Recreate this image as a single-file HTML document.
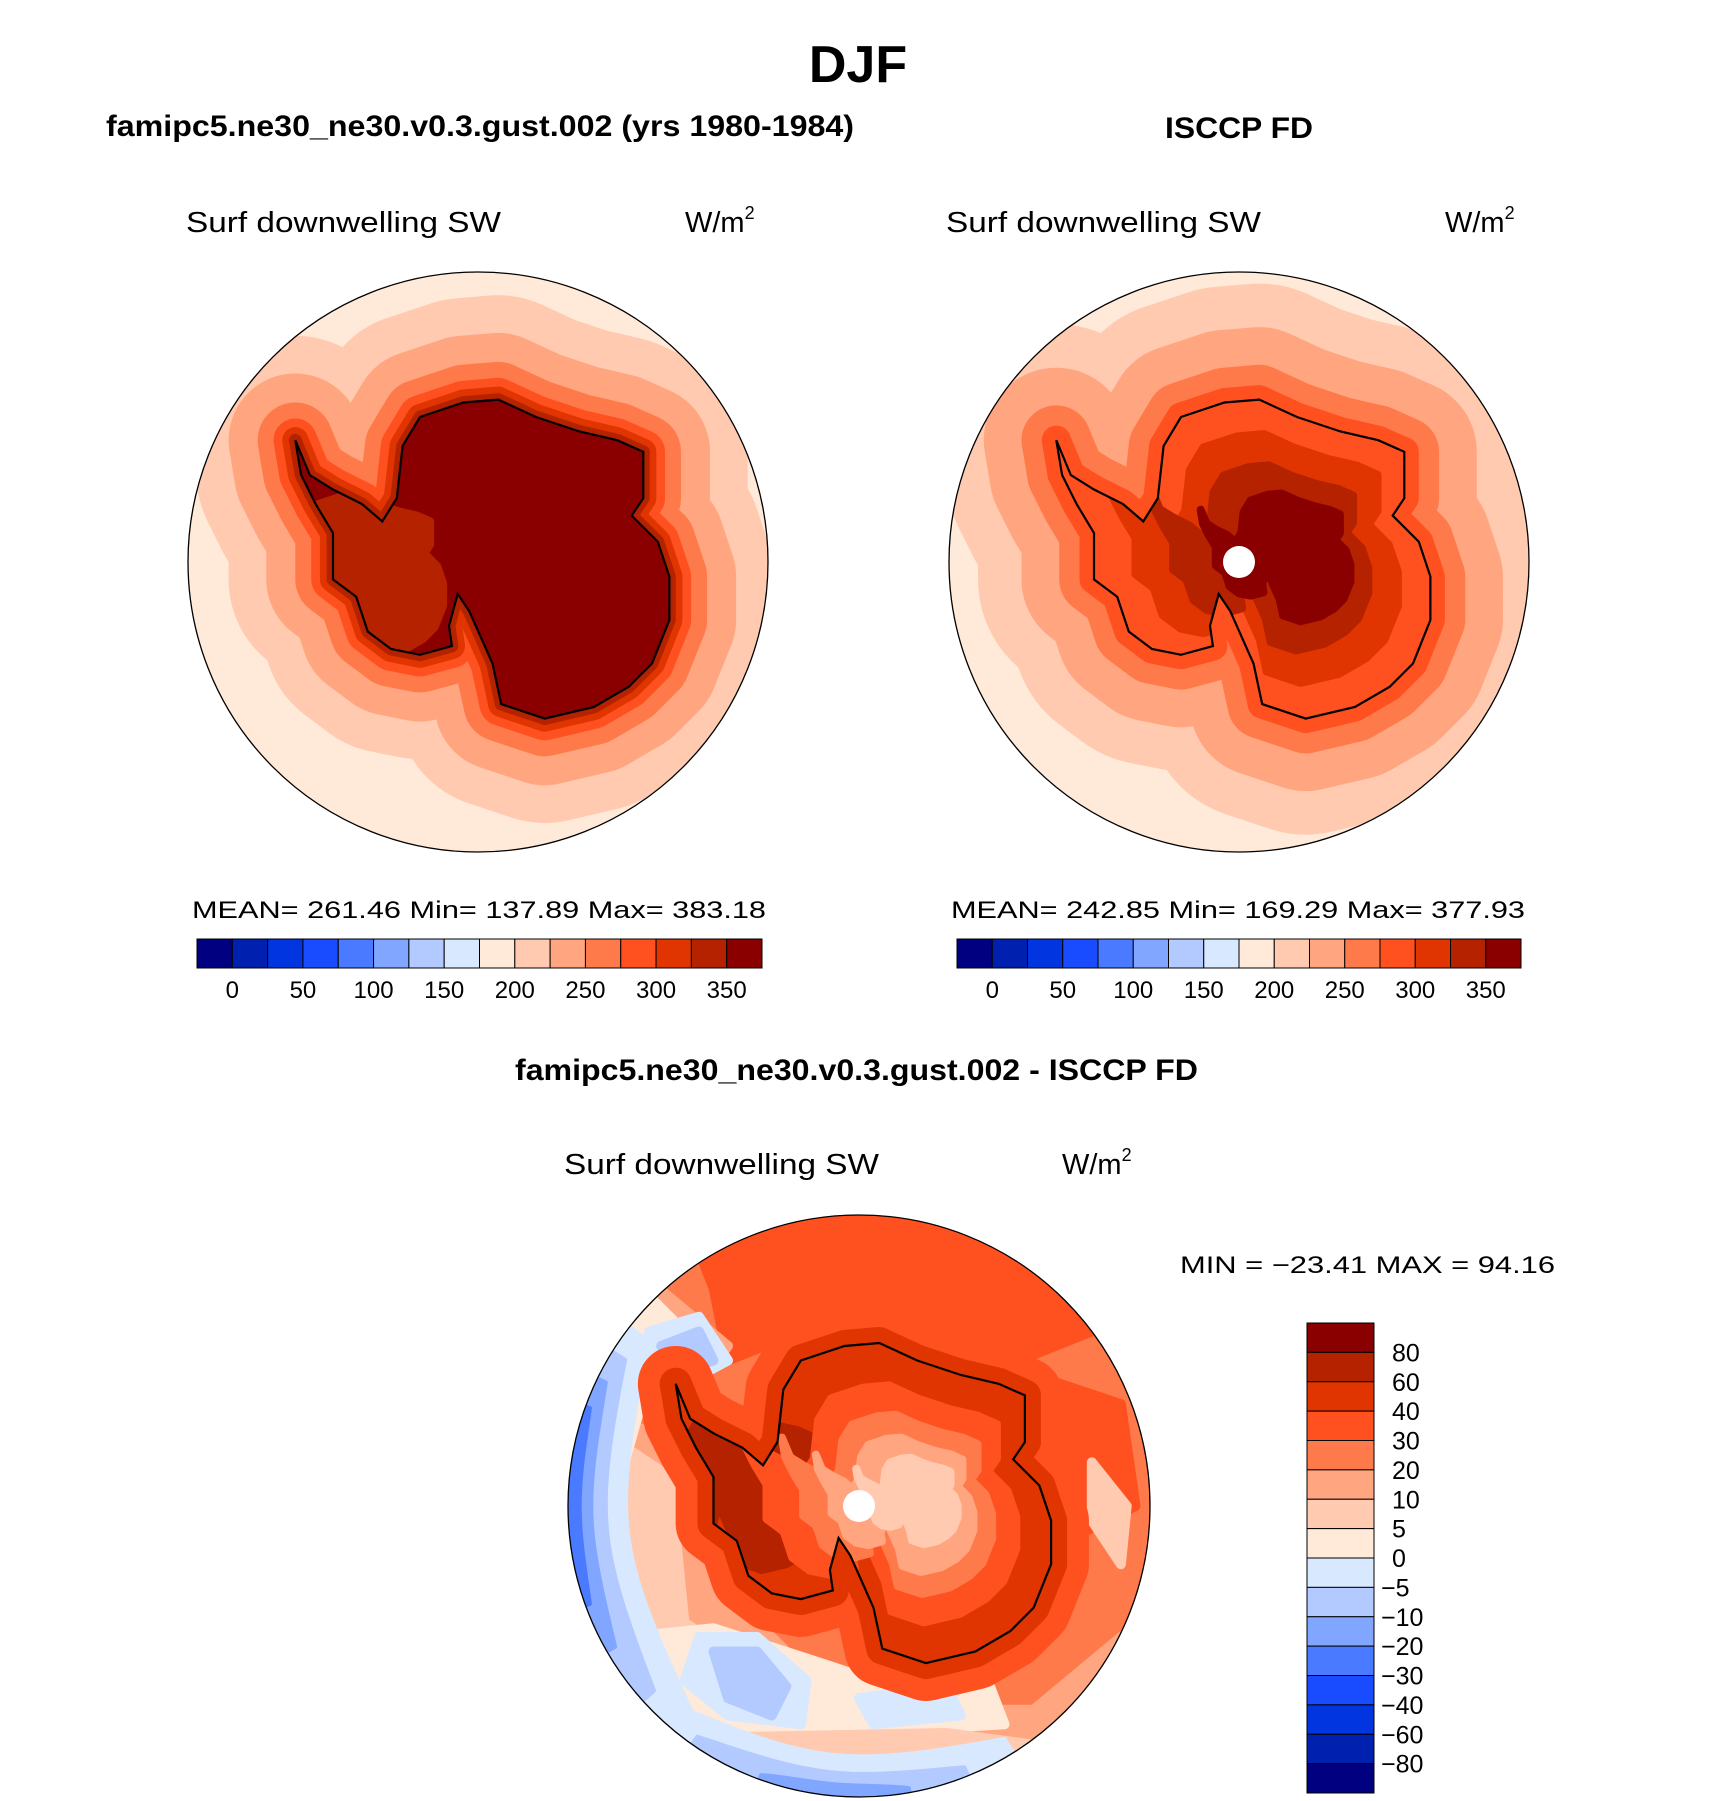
<!DOCTYPE html>
<html><head><meta charset="utf-8"><style>
html,body{margin:0;padding:0;background:#fff}
svg{display:block}
.t{font-family:"Liberation Sans",sans-serif}
</style></head><body>
<svg id="fig" width="1710" height="1801" viewBox="0 0 1710 1801" xmlns="http://www.w3.org/2000/svg">
<text class="t" x="858" y="82" font-size="52" font-weight="bold" text-anchor="middle">DJF</text>
<text class="t" x="106" y="136" font-size="30" font-weight="bold" textLength="748" lengthAdjust="spacingAndGlyphs">famipc5.ne30_ne30.v0.3.gust.002 (yrs 1980-1984)</text>
<text class="t" x="1239" y="138" font-size="30" font-weight="bold" text-anchor="middle" textLength="148" lengthAdjust="spacingAndGlyphs">ISCCP FD</text>
<text class="t" x="515" y="1080" font-size="30" font-weight="bold" textLength="683" lengthAdjust="spacingAndGlyphs">famipc5.ne30_ne30.v0.3.gust.002 - ISCCP FD</text>
<g id="maps"></g>
</svg>
<script>
// contour levels (W/m2) for top panels and difference panel
const absLevels = [0,25,50,75,100,125,150,175,200,225,250,275,300,325,350];
const absTicks = ['0','50','100','150','200','250','300','350'];
const diffTicks = ['80','60','40','30','20','10','5','0','-5','-10','-20','-30','-40','-60','-80'];
const colors = ['#000080','#0020b0','#0035e0','#1a4cff','#4a7aff','#80a6ff','#b2caff','#d8e9ff','#ffe9d8','#ffcab0','#ffa580','#ff7a4a','#ff5020','#e03500','#b52200','#8a0000'];
// panel 1 (model) bands around continent: level index and reach from coast
const m1Bands = [9,10,11,12,13,14];
const m1Reach = [0.36,0.23,0.13,0.075,0.045,0.022];
const m1Inner = [14];
const m1InnerScale = [0.5];
const m1InnerOrigin = [[-0.9,0.1]];
// panel 2 (ISCCP)
const m2Bands = [9,10,11,12];
const m2Reach = [0.40,0.25,0.12,0.05];
const m2Inner = [13,14,15];
const m2InnerScale = [0.78,0.58,0.40];
const m2InnerOrigin = [[0.15,-0.02],[0.15,-0.02],[0.2,-0.02]];
// panel 3 (difference)
const m3Bands = [12,13];
const m3Reach = [0.13,0.055];
const m3Inner = [14,12,11,10,9];
const m3InnerScale = [0.5,0.74,0.56,0.42,0.27];
const m3InnerOrigin = [[-0.9,-0.1],[0.2,0.0],[0.2,0.0],[0.2,0.0],[0.22,-0.02]];
// panel 3 edge bands (level, inner radius fraction, start/end angle deg)
const ringLevel = [7,6,5,4,7,6,5];
const ringInner = [0.80,0.87,0.92,0.96,0.86,0.92,0.96];
const ringStart = [128,138,150,160,58,68,80];
const ringEnd = [218,212,206,200,135,125,110];
const stats1 = 'MEAN=  261.46    Min=  137.89    Max=  383.18';
const stats2 = 'MEAN=  242.85    Min=  169.29    Max=  377.93';
const stats3 = 'MIN  =  \u221223.41  MAX  =    94.16';

const coast = [[-0.63,-0.42],[-0.58,-0.30],[-0.50,-0.25],[-0.40,-0.20],[-0.33,-0.14],[-0.28,-0.22],[-0.26,-0.40],[-0.20,-0.50],[-0.05,-0.55],[0.07,-0.56],[0.20,-0.50],[0.35,-0.45],[0.48,-0.42],[0.57,-0.38],[0.57,-0.22],[0.53,-0.16],[0.62,-0.07],[0.66,0.05],[0.66,0.20],[0.60,0.35],[0.52,0.43],[0.40,0.50],[0.23,0.54],[0.08,0.49],[0.05,0.35],[-0.03,0.17],[-0.07,0.11],[-0.10,0.22],[-0.09,0.29],[-0.20,0.32],[-0.30,0.30],[-0.38,0.24],[-0.42,0.12],[-0.50,0.06],[-0.50,-0.10],[-0.56,-0.20],[-0.61,-0.30]];

const NS='http://www.w3.org/2000/svg';
const root=document.getElementById('maps');
function mk(tag,attrs,parent){const e=document.createElementNS(NS,tag);for(const k in attrs)e.setAttribute(k,attrs[k]);(parent||root).appendChild(e);return e;}
function pts(cx,cy,r,arr,s,ox,oy){s=s||1;ox=ox||0;oy=oy||0;return arr.map(p=>((cx+(ox+(p[0]-ox)*s)*r).toFixed(1)+','+(cy+(oy+(p[1]-oy)*s)*r).toFixed(1))).join(' ');}

function mapPanel(id,cx,cy,r,bg,bands,reach,fill,inner,innerScale,io,extra){
  const g=mk('g',{});
  
  
  const cp=mk('clipPath',{id:id+'-clip'},g);mk('circle',{cx:cx,cy:cy,r:r},cp);
  const gg=mk('g',{'clip-path':'url(#'+id+'-clip)'},g);
  const bgc=mk('circle',{cx:cx,cy:cy,r:r,fill:colors[bg]},gg);
  
  
  if(extra)extra(gg);
  bands.forEach((b,i)=>{
    const p=mk('polygon',{points:pts(cx,cy,r,coast),fill:colors[b],stroke:colors[b],'stroke-width':(reach[i]*2*r).toFixed(1),'stroke-linejoin':'round'},gg);
    
    
  });
  const land=mk('polygon',{points:pts(cx,cy,r,coast),fill:colors[fill]},gg);
  
  
  const icp=mk('clipPath',{id:id+'-land'},g);mk('polygon',{points:pts(cx,cy,r,coast)},icp);
  const ig=mk('g',{'clip-path':'url(#'+id+'-land)'},gg);
  inner.forEach((b,i)=>{
    const p=mk('polygon',{points:pts(cx,cy,r,coast,innerScale[i],io[i][0],io[i][1]),fill:colors[b],stroke:colors[b],'stroke-width':8,'stroke-linejoin':'round'},ig);
    
    
  });
  const cl=mk('polygon',{points:pts(cx,cy,r,coast),fill:'none',stroke:'#000','stroke-width':2.2},g);
  
  
  const rim=mk('circle',{cx:cx,cy:cy,r:r,fill:'none',stroke:'#000','stroke-width':1.3},g);
  
  
  return g;
}
function label(x,y,txt,size,name,len){const t=mk('text',{x:x,y:y,'font-size':size,'class':'t'});if(len){t.setAttribute('textLength',len);t.setAttribute('lengthAdjust','spacingAndGlyphs');}t.textContent=txt;
  
  return t;}
function units(x,y,name){const t=mk('text',{x:x,y:y,'font-size':29,'class':'t'});t.innerHTML='W/m<tspan dy="-13" font-size="18">2</tspan>';
  
  }

// Panel 1
mapPanel('model-map',478,562,290,8,m1Bands,m1Reach,15,m1Inner,m1InnerScale,m1InnerOrigin,null);
// Panel 2
mapPanel('obs-map',1239,562,290,8,m2Bands,m2Reach,12,m2Inner,m2InnerScale,m2InnerOrigin,null);
mk('circle',{cx:1239,cy:562,r:16,fill:'#fff'});
// Panel 3
mapPanel('diff-map',859,1506,291,11,m3Bands,m3Reach,13,m3Inner,m3InnerScale,m3InnerOrigin,function(gg){
  const cx=859,cy=1506,r=291;
  const blobs=[
   [12,[[-0.6,-1],[0.7,-1],[0.8,-0.6],[0.55,-0.5],[0.2,-0.62],[-0.2,-0.6],[-0.45,-0.5],[-0.5,-0.75]]],
   [12,[[0.6,-0.45],[0.9,-0.35],[0.95,0],[0.75,0.1],[0.7,-0.2]]],
   [10,[[-0.85,-0.3],[-0.55,-0.2],[-0.45,0.3],[-0.2,0.55],[0.2,0.7],[0.6,0.7],[0.9,0.45],[1,1],[-1,1],[-1,-0.3]]],
   [10,[[-0.75,-0.8],[-0.45,-0.55],[-0.6,-0.35],[-0.9,-0.4]]],
   [9,[[-0.8,-0.2],[-0.65,-0.1],[-0.6,0.4],[-0.3,0.6],[0.0,0.72],[0.4,0.85],[0.5,1],[-1,1],[-1,-0.2]]],
   [8,[[-1,-0.6],[-0.72,-0.72],[-0.6,-0.6],[-0.72,-0.45],[-0.82,-0.1],[-0.8,0.3],[-0.72,0.55],[-1,0.6]]],
   [7,[[-0.72,-0.6],[-0.55,-0.65],[-0.45,-0.5],[-0.6,-0.42],[-0.75,-0.48]]],
   [6,[[-0.68,-0.55],[-0.55,-0.6],[-0.5,-0.5],[-0.62,-0.46]]],
   [8,[[-0.8,0.45],[-0.5,0.42],[-0.1,0.55],[0.05,0.6],[0.45,0.62],[0.5,0.75],[0.0,0.78],[-0.3,0.85],[-0.6,0.75]]],
   [7,[[-0.55,0.45],[-0.35,0.45],[-0.18,0.6],[-0.2,0.75],[-0.45,0.72],[-0.6,0.6]]],
   [6,[[-0.5,0.5],[-0.35,0.5],[-0.25,0.62],[-0.3,0.72],[-0.45,0.66]]],
   [7,[[0.0,0.66],[0.3,0.62],[0.35,0.72],[0.05,0.75]]],
   [9,[[-0.7,0.8],[0.3,0.78],[0.6,0.82],[0.3,1],[-0.4,1]]],
   [9,[[0.8,-0.15],[0.92,0.0],[0.9,0.2],[0.8,0.05]]]
  ];
  blobs.forEach(b=>{const p=mk('polygon',{points:pts(cx,cy,r,b[1]),fill:colors[b[0]],stroke:colors[b[0]],'stroke-width':10,'stroke-linejoin':'round'},gg);
    
    });
  ringLevel.forEach((lv,i)=>{
    const a0=ringStart[i]*Math.PI/180,a1=ringEnd[i]*Math.PI/180,ri=ringInner[i];
    const P=[];const n=24;
    for(let k=0;k<=n;k++){const a=a0+(a1-a0)*k/n;P.push([Math.cos(a)*1.05,Math.sin(a)*1.05]);}
    for(let k=n;k>=0;k--){const a=a0+(a1-a0)*k/n;const w=ri+(1-ri)*0.6*Math.pow(Math.abs(2*k/n-1),3);P.push([Math.cos(a)*w,Math.sin(a)*w]);}
    const p=mk('polygon',{points:pts(cx,cy,r,P),fill:colors[lv],stroke:colors[lv],'stroke-width':4,'stroke-linejoin':'round'},gg);
    
    
  });
});
mk('circle',{cx:859,cy:1506,r:16,fill:'#fff'});

// subtitles
label(186,232,'Surf  downwelling  SW',29,'left-variable-label',315);units(685,232,'left-units-label');
label(946,232,'Surf  downwelling  SW',29,'right-variable-label',315);units(1445,232,'right-units-label');
label(564,1174,'Surf  downwelling  SW',29,'diff-variable-label',315);units(1062,1174,'diff-units-label');
label(192,918,stats1,24,'left-stats',574);
label(951,918,stats2,24,'right-stats',574);
label(1180,1273,stats3,24,'diff-stats',375);

// horizontal colorbars
function hbar(x0,x1,y0,y1,name){
  const g=mk('g',{});
  const w=(x1-x0)/colors.length;
  colors.forEach((c,i)=>{const r=mk('rect',{x:x0+i*w,y:y0,width:w,height:y1-y0,fill:c,stroke:'#000','stroke-width':1},g);
    });
  absTicks.forEach((t,k)=>{const bi=absLevels.indexOf(+t)+1;const tx=mk('text',{x:x0+bi*w,y:y1+30,'font-size':24,'class':'t','text-anchor':'middle'},g);tx.textContent=t;
    });
}
hbar(197,762,939,968,'left-colorbar');
hbar(957,1521,939,968,'right-colorbar');
// vertical colorbar
(function(){
  const g=mk('g',{});
  const x0=1307,x1=1374,y0=1323,y1=1793,h=(y1-y0)/colors.length;
  colors.slice().reverse().forEach((c,i)=>{const r=mk('rect',{x:x0,y:y0+i*h,width:x1-x0,height:h,fill:c,stroke:'#000','stroke-width':1},g);
    });
  diffTicks.forEach((t,i)=>{const tx=mk('text',{x:t.startsWith('-')?1381:1392,y:y0+(i+1)*h+9,'font-size':25,'class':'t'},g);tx.textContent=t.replace('-','\u2212');
    });
})();
</script>
</body></html>
